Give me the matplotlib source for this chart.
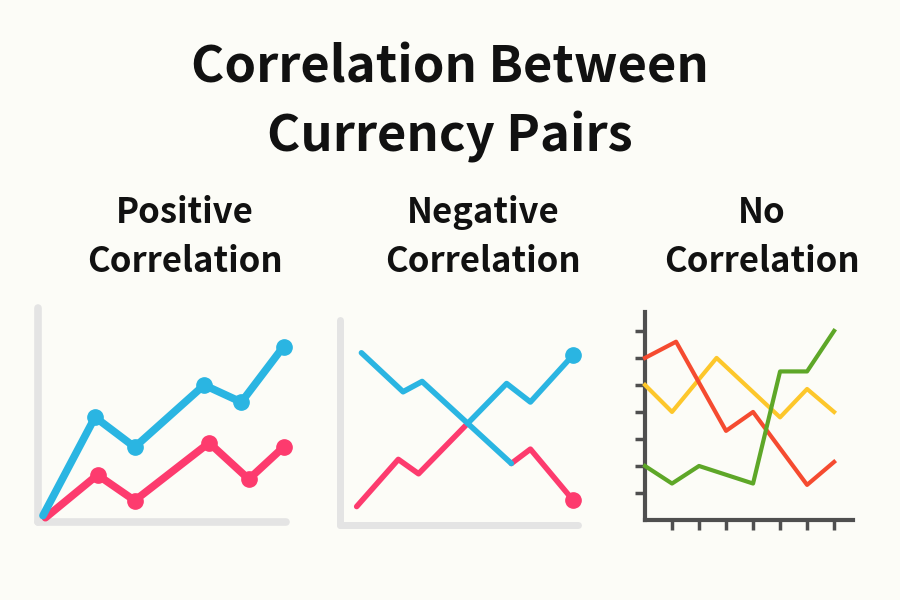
import numpy as np
import matplotlib
matplotlib.use("Agg")
import matplotlib.pyplot as plt

# ---- data ----
title = "Correlation Between\nCurrency Pairs"
panel_titles = ["Positive\nCorrelation", "Negative\nCorrelation", "No\nCorrelation"]

# positive correlation
pos_blue_x = [0.2, 2.3, 3.9, 6.7, 8.2, 9.9]
pos_blue_y = [0.3, 4.9, 3.5, 6.4, 5.6, 8.2]
pos_red_x = [0.3, 2.4, 3.9, 6.9, 8.5, 9.9]
pos_red_y = [0.2, 2.2, 1.0, 3.7, 2.0, 3.5]

# negative correlation (one line falling, one rising)
neg_down_x = [0.9, 2.65, 3.45, 7.2, 8.0, 9.8]
neg_down_y = [8.4, 6.5, 7.0, 3.0, 3.7, 1.2]
neg_up_x = [0.7, 2.45, 3.3, 7.0, 8.0, 9.8]
neg_up_y = [0.9, 3.2, 2.5, 6.9, 6.0, 8.3]

# no correlation
no_red_x = [0, 1.15, 3, 4, 6, 7]
no_red_y = [6.0, 6.6, 3.3, 4.0, 1.3, 2.15]
no_yellow_x = [0, 1, 2.65, 5, 6, 7]
no_yellow_y = [5.0, 4.0, 6.0, 3.8, 4.85, 4.0]
no_green_x = [0, 1, 2, 4, 5, 6, 7]
no_green_y = [2.0, 1.35, 2.0, 1.35, 5.5, 5.5, 7.0]

bg = "#fcfcf7"
blue = "#2ab5e2"
red = "#fd3b6e"
gray = "#e4e4e4"
dark = "#4f4f4f"

plt.rcParams['font.family'] = ['Noto Sans CJK JP', 'DejaVu Sans']

fig = plt.figure(figsize=(9, 6), dpi=100, facecolor=bg)
W, H = 900, 600


def add_ax(left, top, right, bottom):
    return fig.add_axes([left / W, 1 - bottom / H, (right - left) / W, (bottom - top) / H])


fig.text(0.5, 1 - 103 / H, title, ha="center", va="center", fontsize=36.5,
         fontweight="bold", linespacing=1.44, color="#111111")
for cx, t in zip([185, 483, 762], panel_titles):
    fig.text(cx / W, 1 - 237 / H, t, ha="center", va="center", fontsize=25,
             fontweight="bold", linespacing=1.48, color="#111111")

# ---- panel 1: positive ----
ax1 = add_ax(38, 308, 286, 522)
ax1.set_xlim(0, 10)
ax1.set_ylim(0, 10)
for s in ["left", "bottom"]:
    ax1.spines[s].set_color(gray)
    ax1.spines[s].set_linewidth(5.5)
    ax1.spines[s].set_capstyle("round")
for s in ["top", "right"]:
    ax1.spines[s].set_visible(False)
ax1.set_xticks([])
ax1.set_yticks([])
ax1.patch.set_alpha(0)
ax1.plot(pos_red_x, pos_red_y, color=red, lw=5.5, marker="o", ms=11,
         markevery=list(range(1, len(pos_red_x))), solid_capstyle="round",
         solid_joinstyle="round", clip_on=False, zorder=3)
ax1.plot(pos_blue_x, pos_blue_y, color=blue, lw=5.5, marker="o", ms=11,
         markevery=list(range(1, len(pos_blue_x))), solid_capstyle="round",
         solid_joinstyle="round", clip_on=False, zorder=4)

# ---- panel 2: negative ----
ax2 = add_ax(340, 320, 578, 525)
ax2.set_xlim(0, 10)
ax2.set_ylim(0, 10)
for s in ["left", "bottom"]:
    ax2.spines[s].set_color(gray)
    ax2.spines[s].set_linewidth(5)
    ax2.spines[s].set_capstyle("round")
for s in ["top", "right"]:
    ax2.spines[s].set_visible(False)
ax2.set_xticks([])
ax2.set_yticks([])
ax2.patch.set_alpha(0)

# crossing point of the two lines (segments 2->3)
p1 = np.array([neg_down_x[2], neg_down_y[2]])
p2 = np.array([neg_down_x[3], neg_down_y[3]])
q1 = np.array([neg_up_x[2], neg_up_y[2]])
q2 = np.array([neg_up_x[3], neg_up_y[3]])
d1 = p2 - p1
d2 = q2 - q1
t = np.cross(q1 - p1, d2) / np.cross(d1, d2)
cx, cy = p1 + t * d1

kw = dict(lw=4, solid_capstyle="round", solid_joinstyle="round", clip_on=False)
ax2.plot(neg_up_x[:3] + [cx], neg_up_y[:3] + [cy], color=red, zorder=3, **kw)
ax2.plot(neg_down_x[3:], neg_down_y[3:], color=red, zorder=3, **kw)
ax2.plot(neg_down_x[-1], neg_down_y[-1], "o", color=red, ms=11, zorder=3, clip_on=False)
ax2.plot(neg_down_x[:4], neg_down_y[:4], color=blue, zorder=4, **kw)
ax2.plot([cx] + neg_up_x[3:], [cy] + neg_up_y[3:], color=blue, zorder=4, **kw)
ax2.plot(neg_up_x[-1], neg_up_y[-1], "o", color=blue, ms=11, zorder=4, clip_on=False)

# ---- panel 3: no correlation ----
ax3 = add_ax(645, 312, 853, 520)
ax3.set_xlim(0, 7.7)
ax3.set_ylim(0, 7.7)
for s in ["left", "bottom"]:
    ax3.spines[s].set_color(dark)
    ax3.spines[s].set_linewidth(3)
for s in ["top", "right"]:
    ax3.spines[s].set_visible(False)
ax3.set_xticks(range(1, 8))
ax3.set_yticks(range(1, 8))
ax3.tick_params(length=7, width=2.5, color=dark, labelbottom=False, labelleft=False,
                direction="out")
ax3.patch.set_alpha(0)
kw3 = dict(lw=3, clip_on=False)
ax3.plot(no_yellow_x, no_yellow_y, color="#fdc72b", zorder=3, **kw3)
ax3.plot(no_red_x, no_red_y, color="#f54b30", zorder=3, **kw3)
ax3.plot(no_green_x, no_green_y, color="#5ea728", zorder=3, **kw3)

fig.savefig("out.png", dpi=100, facecolor=bg)
